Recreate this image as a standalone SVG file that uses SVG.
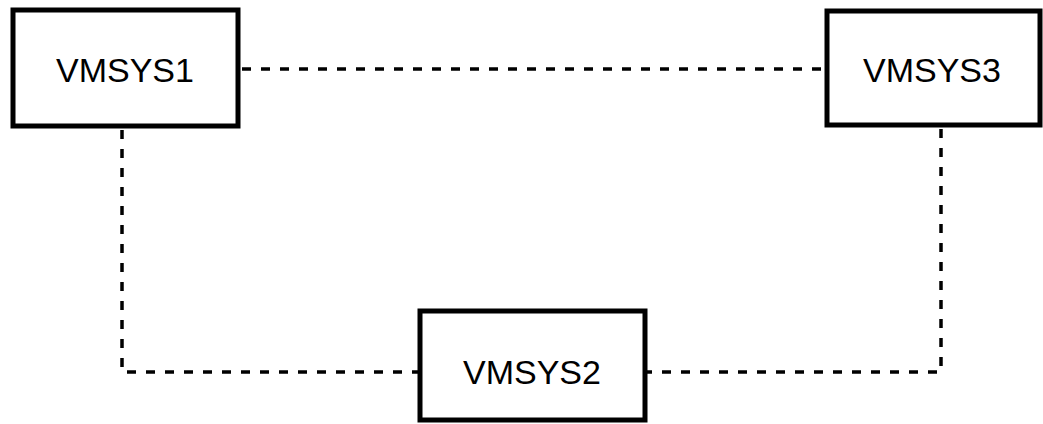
<svg xmlns="http://www.w3.org/2000/svg" width="1043" height="424" viewBox="0 0 1043 424">
<style>
.box{fill:#fff;stroke:#000;stroke-width:5}
.lbl{font-family:"Liberation Sans",Arial,sans-serif;font-size:34px;fill:#000;text-anchor:middle;dominant-baseline:central}
.conn{fill:none;stroke:#000;stroke-width:3.5;stroke-dasharray:9 10}
</style>
<rect width="1043" height="424" fill="#fff"/>
<g id="connectors">
<line class="conn" x1="242" y1="69" x2="825" y2="69"/>
<polyline class="conn" points="122,130 122,372 418,372"/>
<polyline class="conn" points="941,129 941,372 647,372"/>
</g>
<g id="vmsys1">
<rect class="box" x="13" y="10" width="225" height="116"/>
<text class="lbl" x="125" y="70">VMSYS1</text>
</g>
<g id="vmsys3">
<rect class="box" x="827" y="11" width="213" height="114"/>
<text class="lbl" x="932" y="70">VMSYS3</text>
</g>
<g id="vmsys2">
<rect class="box" x="420" y="311" width="225" height="109"/>
<text class="lbl" x="532" y="372">VMSYS2</text>
</g>
</svg>
